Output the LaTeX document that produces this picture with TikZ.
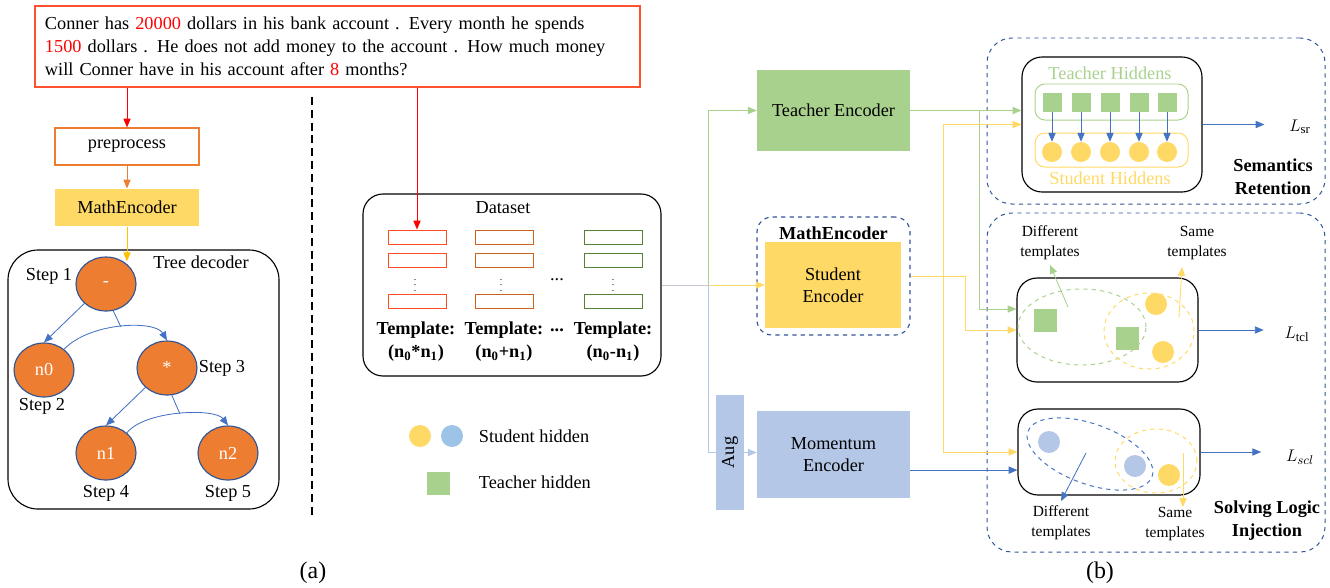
\documentclass[tikz,border=0pt]{standalone}
\usepackage{fontspec}
\setmainfont{Liberation Serif}
\usetikzlibrary{shapes.geometric, arrows.meta, positioning}

\definecolor{probred}{HTML}{FF5030}
\definecolor{preorange}{HTML}{ED7D31}
\definecolor{goldarrow}{HTML}{FFC000}
\definecolor{yfill}{HTML}{FFD966}
\definecolor{gfill}{HTML}{A9D18E}
\definecolor{bfill}{HTML}{B4C7E7}
\definecolor{legblue}{HTML}{9DC3E6}
\definecolor{lineblue}{HTML}{4472C4}
\definecolor{dashblue}{HTML}{2F5597}
\definecolor{tplred}{HTML}{FF4A22}
\definecolor{tplorange}{HTML}{C9631C}
\definecolor{tplgreen}{HTML}{548235}
\definecolor{splitgray}{HTML}{C3CAD6}

\tikzstyle{arrow} = [->, >={Triangle[length=2.2mm, width=1.8mm]}, line width=0.6pt]
\tikzstyle{flowbox} = [rectangle, minimum width=36mm, minimum height=9.25mm, line width=0.8pt]
\tikzstyle{encoder} = [rectangle, minimum width=38.25mm, minimum height=20.25mm, align=center]
\tikzstyle{treenode} = [ellipse, draw=dashblue, line width=0.8pt, fill=preorange, text=white, minimum width=15mm, minimum height=13.5mm, inner sep=0pt]
\tikzstyle{tpl} = [rectangle, draw, line width=0.7pt, minimum width=14.5mm, minimum height=3.5mm, inner sep=0pt]
\tikzstyle{boldtext} = [font=\fontsize{13}{16.3}\selectfont\bfseries, align=center]
\tikzstyle{panel} = [rectangle, rounded corners=6.25mm, draw=dashblue, dashed, line width=0.7pt, minimum width=84.5mm]
\tikzstyle{lossbox} = [rectangle, rounded corners=5mm, draw=black, line width=0.8pt]
\tikzstyle{shidden} = [circle, minimum size=5.5mm, inner sep=0pt]
\tikzstyle{thidden} = [rectangle, fill=gfill, minimum size=5.75mm, inner sep=0pt]
\tikzstyle{hiddenrow} = [rectangle, rounded corners=2.5mm, line width=0.7pt, minimum width=38.25mm]
\tikzstyle{groupline} = [ellipse, dashed, line width=0.7pt, inner sep=0pt]
\tikzstyle{smalltext} = [font=\fontsize{11}{14}\selectfont, align=center]
\tikzstyle{vdots} = [font=\fontsize{7}{8}\selectfont, inner sep=0pt]

\begin{document}
\begin{tikzpicture}[x=0.25mm, y=-0.25mm, font=\fontsize{13}{16}\selectfont]
\useasboundingbox (0,0) rectangle (1330,587);

% Placement of nodes: problem and (a)
\node (problem) [rectangle, draw=probred, line width=0.8pt, minimum width=151.25mm, minimum height=20.25mm, text width=146.25mm, inner xsep=2.5mm, align=left, font=\fontsize{13}{16.3}\selectfont] at (337.5,46.5) {Conner has \textcolor{red}{20000} dollars in his bank account . Every month he spends\\\textcolor{red}{1500} dollars . He does not add money to the account . How much money\\will Conner have in his account after \textcolor{red}{8} months?};
\node (prep) [flowbox, draw=preorange] at (127,146.5) {preprocess};
\node (mathencA) [flowbox, fill=yfill] at (127,207.5) {MathEncoder};
\node (treebox) [rectangle, draw, rounded corners=7.5mm, line width=0.8pt, minimum width=67.75mm, minimum height=64.75mm] at (143.5,379.5) {};
\node (treelabel) at (201,262) {Tree decoder};

% tree nodes
\node (t1) [treenode] at (106,284) {-};
\node (t2) [treenode] at (44,370) {n0};
\node (t3) [treenode] at (167,368) {*};
\node (t4) [treenode] at (106,453) {n1};
\node (t5) [treenode] at (228,453) {n2};
\node (s1) at (49,276) {Step 1};
\node (s2) at (42,406) {Step 2};
\node (s3) at (222,368) {Step 3};
\node (s4) at (106,493) {Step 4};
\node (s5) at (228,493) {Step 5};
\coordinate (a1) at (121,327);
\coordinate (a2) at (180,414);

\node (capA) [font=\fontsize{17}{20}\selectfont] at (313,573) {(a)};
\node (capB) [font=\fontsize{17}{20}\selectfont] at (1100,573) {(b)};

% Dataset
\node (dataset) [rectangle, draw, rounded corners=5mm, line width=0.8pt, minimum width=74.5mm, minimum height=45.5mm] at (512,285) {};
\node (dslabel) at (503,208) {Dataset};
\node (tplA1) [tpl, draw=tplred] at (417,237) {};
\node (tplA2) [tpl, draw=tplred] at (417,260.5) {};
\node (tplA3) [tpl, draw=tplred] at (417,301) {};
\node (tplB1) [tpl, draw=tplorange] at (504,237) {};
\node (tplB2) [tpl, draw=tplorange] at (504,260.5) {};
\node (tplB3) [tpl, draw=tplorange] at (504,301) {};
\node (tplC1) [tpl, draw=tplgreen] at (613.5,237) {};
\node (tplC2) [tpl, draw=tplgreen] at (613.5,260.5) {};
\node (tplC3) [tpl, draw=tplgreen] at (613.5,301) {};
\node [vdots] at (415,281) {$\vdots$};
\node [vdots] at (501,281) {$\vdots$};
\node [vdots] at (613,281) {$\vdots$};
\node (hdots) at (557,280) {...};
\node (tplAlab) [boldtext] at (416,342) {Template:\\(n\textsubscript{0}*n\textsubscript{1})};
\node (tplBlab) [boldtext] at (504,342) {Template:\\(n\textsubscript{0}+n\textsubscript{1})};
\node (tpldots) [boldtext] at (557,330) {...};
\node (tplClab) [boldtext] at (613,342) {Template:\\(n\textsubscript{0}-n\textsubscript{1})};

% legend
\node (legY) [shidden, fill=yfill] at (420,436) {};
\node (legB) [shidden, fill=legblue] at (452,436) {};
\node (legYtext) [anchor=west] at (474,436) {Student hidden};
\node (legG) [thidden] at (438,483) {};
\node (legGtext) [anchor=west] at (474,482) {Teacher hidden};

% encoders
\node (teacher) [encoder, fill=gfill] at (833.5,110.5) {Teacher Encoder};
\node (mathenc) [rectangle, draw=dashblue, dashed, rounded corners=3.75mm, line width=0.8pt, minimum width=38.25mm, minimum height=29.5mm] at (833.5,276) {};
\node (mathenclab) [boldtext] at (833.5,233) {MathEncoder};
\node (student) [encoder, fill=yfill, minimum width=34mm, minimum height=21.5mm] at (833,285) {Student\\Encoder};
\node (aug) [rectangle, fill=bfill, rotate=90, minimum width=28.75mm, minimum height=7mm] at (730,452.5) {Aug};
\node (momentum) [encoder, fill=bfill, minimum height=21.75mm] at (833.5,454.5) {Momentum\\Encoder};
\coordinate (split) at (708,285);

% Semantics Retention
\node (srpanel) [panel, minimum height=41.5mm] at (1156,121) {};
\node (srinner) [lossbox, minimum width=45mm, minimum height=33.75mm] at (1112,124.5) {};
\node (thlab) [text=gfill] at (1110,73) {Teacher Hiddens};
\node (throw) [hiddenrow, draw=gfill, minimum height=9mm] at (1111.5,102) {};
\node (shrow) [hiddenrow, draw=yfill, minimum height=8.5mm] at (1111.5,150) {};
\node (shlab) [text=yfill] at (1110,178) {Student Hiddens};
\node (sq1) [thidden, minimum size=4.75mm] at (1052,102) {};
\node (sq2) [thidden, minimum size=4.75mm] at (1081,102) {};
\node (sq3) [thidden, minimum size=4.75mm] at (1110,102) {};
\node (sq4) [thidden, minimum size=4.75mm] at (1139,102) {};
\node (sq5) [thidden, minimum size=4.75mm] at (1167,102) {};
\node (ci1) [shidden, fill=yfill, minimum size=5mm] at (1052,152) {};
\node (ci2) [shidden, fill=yfill, minimum size=5mm] at (1081,152) {};
\node (ci3) [shidden, fill=yfill, minimum size=5mm] at (1110,152) {};
\node (ci4) [shidden, fill=yfill, minimum size=5mm] at (1139,152) {};
\node (ci5) [shidden, fill=yfill, minimum size=5mm] at (1167,152) {};
\node (lsr) at (1300,127) {$L_{\mathrm{sr}}$};
\node (srlab) [boldtext] at (1273,177) {Semantics\\Retention};

% Solving Logic Injection
\node (slipanel) [panel, minimum height=84.75mm] at (1156,382.5) {};
\node (midbox) [lossbox, minimum width=45.25mm, minimum height=26mm] at (1107.5,330) {};
\node (gdiff) [groupline, draw=gfill, minimum width=32mm, minimum height=19mm] at (1082,327) {};
\node (gsame) [groupline, draw=yfill, minimum width=22.5mm, minimum height=19mm] at (1149,331) {};
\node (mq1) [thidden] at (1045,320) {};
\node (mq2) [thidden] at (1127,338) {};
\node (mc1) [shidden, fill=yfill] at (1156,304) {};
\node (mc2) [shidden, fill=yfill] at (1163,352) {};
\node (mdifflab) [smalltext] at (1050,243) {Different\\templates};
\node (msamelab) [smalltext] at (1197,243) {Same\\templates};
\node (ltcl) at (1297,334) {$L_{\mathrm{tcl}}$};

\node (botbox) [lossbox, minimum width=45.5mm, minimum height=21.5mm] at (1109,452) {};
\node (bdiff) [groupline, draw=lineblue, rotate=-20, minimum width=33mm, minimum height=15mm] at (1090,454) {};
\node (bsame) [groupline, draw=yfill, minimum width=20.5mm, minimum height=16mm] at (1156,461) {};
\node (bc1) [shidden, fill=bfill] at (1049,442) {};
\node (bc2) [shidden, fill=bfill] at (1135,466) {};
\node (bc3) [shidden, fill=yfill] at (1169,475) {};
\node (bdifflab) [smalltext] at (1061,523) {Different\\templates};
\node (bsamelab) [smalltext] at (1175,524) {Same\\templates};
\node (lscl) at (1300,457) {$L_{scl}$};
\node (slilab) [boldtext] at (1267,521) {Solving Logic\\Injection};

% Placement of edges: left part
\draw [arrow, red] (problem.south -| prep.north) -- (prep.north);
\draw [arrow, preorange] (prep) -- (mathencA);
\draw [arrow, goldarrow] (mathencA.south) -- ([yshift=-1.2mm]mathencA.south |- t1.north);
\draw [arrow, lineblue] (t1.222) -- (t2.north);
\draw [arrow, lineblue] (t2.46) .. controls (90,322) and (155,320) .. (t3.north);
\draw [lineblue, line width=0.6pt] (t1.285) -- (a1);
\draw [arrow, lineblue] (t3.222) -- (t4.north);
\draw [arrow, lineblue] (t4.44) .. controls (145,410) and (215,408) .. (t5.north);
\draw [lineblue, line width=0.6pt] (t3.280) -- (a2);
\draw [black, line width=1pt, dash pattern=on 2mm off 1.2mm] (312,97) -- (312,517);

% into the dataset and the encoders
\draw [arrow, red] (problem.south -| tplA1.north) -- (tplA1.north);
\draw [splitgray, line width=0.6pt] (dataset.east |- split) -- (split);
\draw [arrow, gfill] (split) |- (teacher.west);
\draw [arrow, yfill] (split) -- (student.west);
\draw [bfill, line width=0.6pt] (split) |- (aug.north);
\draw [arrow, bfill] (aug.south) -- (aug.south -| momentum.west);

% teacher outputs
\draw [arrow, gfill] (teacher.east) -- (teacher.east -| srinner.west);
\draw [arrow, gfill] (979,110.5) |- ([yshift=5.25mm]midbox.west);
% student outputs
\draw [arrow, yfill] (mathenc.east) -- (965,276) |- (midbox.west);
\draw [arrow, yfill] (943,276) |- (srinner.west);
\draw [arrow, yfill] (943,276) |- (botbox.west);
% momentum output
\draw [arrow, lineblue] ([yshift=-3.9mm]momentum.east) -- ([yshift=-3.9mm]momentum.east -| botbox.west);

% inside the loss boxes
\draw [arrow, lineblue] (sq1) -- (ci1);
\draw [arrow, lineblue] (sq2) -- (ci2);
\draw [arrow, lineblue] (sq3) -- (ci3);
\draw [arrow, lineblue] (sq4) -- (ci4);
\draw [arrow, lineblue] (sq5) -- (ci5);
\draw [arrow, gfill] (1068,307) -- (mdifflab.south);
\draw [arrow, yfill] (1179,317) -- (1182,267);
\draw [arrow, lineblue] (1086,453) -- (bdifflab.north);
\draw [arrow, yfill] (1183,453) -- (1183,507);

% losses
\draw [arrow, lineblue] (srinner.east) -- ([xshift=-5mm]srinner.east -| lsr.west);
\draw [arrow, lineblue] (midbox.east) -- ([xshift=-4mm]midbox.east -| ltcl.west);
\draw [arrow, lineblue] (botbox.east) -- ([xshift=-5mm]botbox.east -| lscl.west);

\end{tikzpicture}
\end{document}
